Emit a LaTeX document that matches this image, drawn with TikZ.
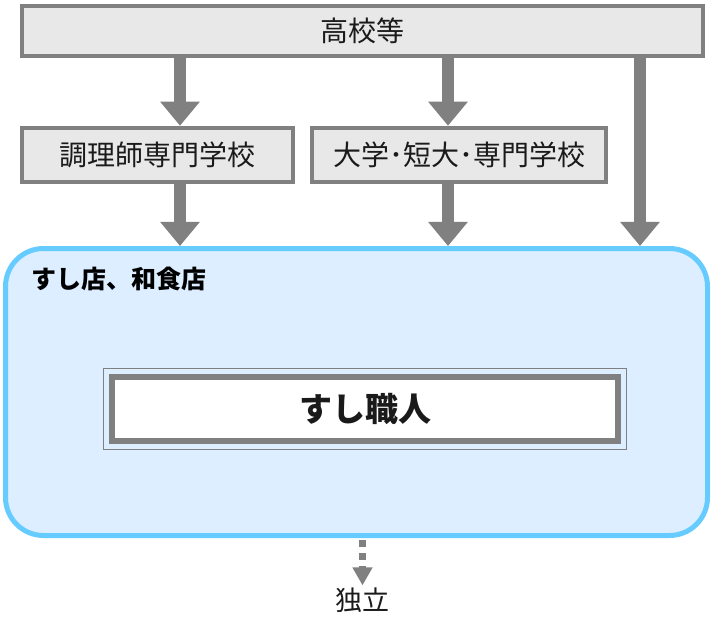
\documentclass[tikz,border=0pt]{standalone}
\usepackage{fontspec}
\setmainfont{Noto Sans CJK JP}
\usetikzlibrary{arrows.meta}
\definecolor{bordergray}{HTML}{808080}
\definecolor{boxfill}{HTML}{E8E8E8}
\definecolor{bigborder}{HTML}{66CCFF}
\definecolor{bigfill}{HTML}{DCEEFF}
\definecolor{txt}{HTML}{1A1A1A}
\tikzset{
  schoolbox/.style={draw=bordergray, line width=4.5pt, fill=boxfill, inner sep=0pt,
    font=\fontsize{28}{30}\selectfont, text=txt},
  flowarrow/.style={draw=bordergray, line width=12pt,
    -{Triangle[width=38pt,length=24pt]}, shorten >=0pt},
  dotarrow/.style={draw=bordergray, line width=6.5pt, dash pattern=on 6.5pt off 6.5pt,
    -{Triangle[width=19pt,length=18pt]}},
}
\begin{document}
\begin{tikzpicture}[x=1pt,y=1pt]
\useasboundingbox (0,0) rectangle (712,-631);
% nodes
\node[schoolbox, minimum width=681pt, minimum height=50pt] (top) at (362.5,-31) {高校等};
\node[schoolbox, minimum width=271pt, minimum height=54pt] (cook) at (157.5,-155) {調理師専門学校};
\node[schoolbox, minimum width=294pt, minimum height=54pt] (univ) at (459,-155) {大学･短大･専門学校};
\node[draw=bigborder, fill=bigfill, line width=5pt, rounded corners=38pt,
      minimum width=702pt, minimum height=287pt, inner sep=0pt] (shop) at (356.5,-392) {};
\node[anchor=west, font=\bfseries\fontsize{25}{28}\selectfont, text=black, inner sep=0pt] (shoplabel) at (31,-279) {すし店、和食店};
\node[draw=bordergray, fill=white, line width=6pt, minimum width=506pt, minimum height=64pt,
      inner sep=0pt, font=\bfseries\fontsize{33}{36}\selectfont, text=txt] (chef) at (365,-409) {すし職人};
\draw[bordergray, line width=1.2pt] ([shift={(-5.5pt,5.5pt)}]chef.north west) rectangle ([shift={(5.5pt,-5.5pt)}]chef.south east);
\node[font=\fontsize{27}{30}\selectfont, text=txt, inner sep=0pt] (indep) at (362.5,-600) {独立};
% connectors
\coordinate (c1) at (180,0);
\coordinate (c2) at (448,0);
\coordinate (c3) at (640,0);
\draw[flowarrow] (top.south -| c1) -- (cook.north -| c1);
\draw[flowarrow] (top.south -| c2) -- (univ.north -| c2);
\draw[flowarrow] (top.south -| c3) -- (shop.north -| c3);
\draw[flowarrow] (cook.south -| c1) -- (shop.north -| c1);
\draw[flowarrow] (univ.south -| c2) -- (shop.north -| c2);
\draw[dotarrow] ([yshift=-2pt]shop.south -| indep) -- ([yshift=2pt]indep.north);
\end{tikzpicture}
\end{document}
